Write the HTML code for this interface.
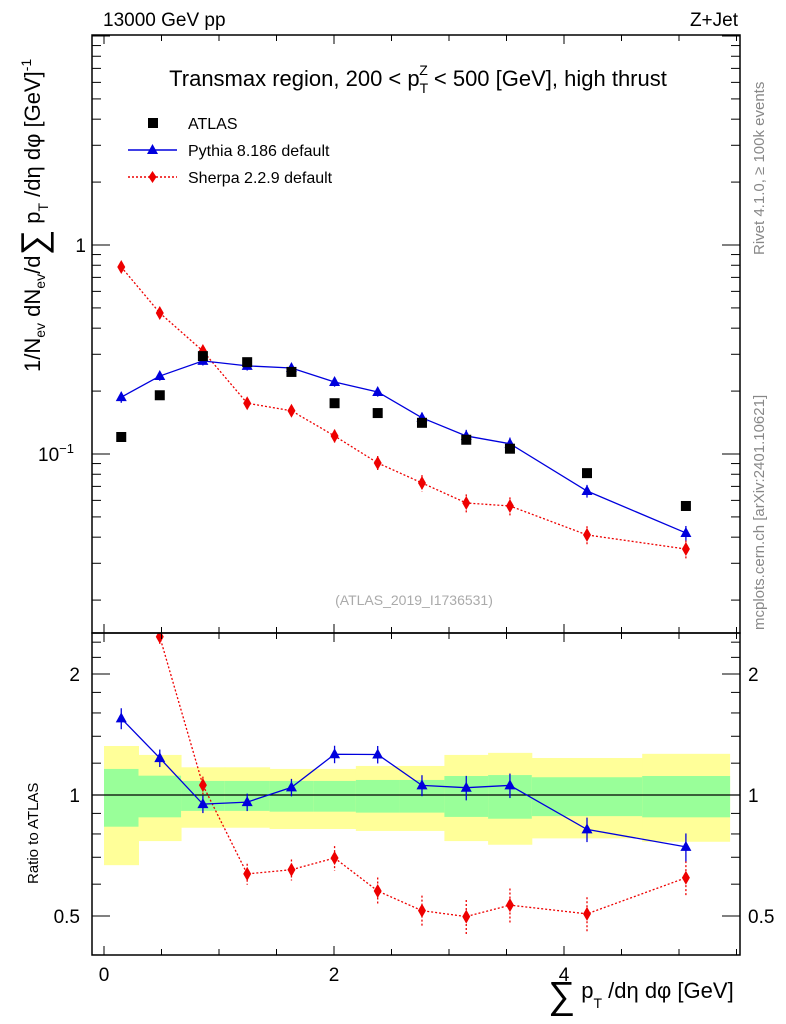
<!DOCTYPE html>
<html><head><meta charset="utf-8"><style>
body{margin:0;background:#fff;}
svg{display:block;font-family:"Liberation Sans",sans-serif;}
</style></head><body>
<svg id="c" width="786" height="1024" viewBox="0 0 786 1024">
<g id="bands"></g>
<g id="marks"></g>
<g id="axes"></g>
<text x="103" y="26" font-size="19">13000 GeV pp</text>
<text x="738" y="26" font-size="19" text-anchor="end">Z+Jet</text>
<text x="418" y="86" font-size="22" text-anchor="middle">Transmax region, 200 &lt; p<tspan font-size="14" dy="7">T</tspan><tspan font-size="14" dx="-9" dy="-18">Z</tspan><tspan dy="11"> &lt; 500 [GeV], high thrust</tspan></text>
<g>
<rect x="148" y="118" width="10" height="10" fill="#000"/>
<text x="188" y="129" font-size="16">ATLAS</text>
<line x1="128" y1="150" x2="177" y2="150" stroke="#0000dd" stroke-width="1.5"/>
<polygon points="152.5,144 158,154 147,154" fill="#0000dd"/>
<text x="188" y="156" font-size="16">Pythia 8.186 default</text>
<line x1="128" y1="177" x2="177" y2="177" stroke="#ee0000" stroke-width="1.5" stroke-dasharray="2,2"/>
<polygon points="152.5,171 156.5,177 152.5,183 148.5,177" fill="#ee0000"/>
<text x="188" y="183" font-size="16">Sherpa 2.2.9 default</text>
</g>
<text x="414" y="605" font-size="14" fill="#aaa" text-anchor="middle">(ATLAS_2019_I1736531)</text>
<text transform="translate(764,255) rotate(-90)" font-size="15" fill="#888">Rivet 4.1.0, ≥ 100k events</text>
<text transform="translate(764,630) rotate(-90)" font-size="15" fill="#888">mcplots.cern.ch [arXiv:2401.10621]</text>
<text transform="translate(40,372) rotate(-90)" font-size="22">1/N<tspan font-size="14" dy="5">ev</tspan><tspan dy="-5"> dN</tspan><tspan font-size="14" dy="5">ev</tspan><tspan dy="-5">/d</tspan><tspan font-size="36" dy="6">∑</tspan><tspan dy="-6"> p</tspan><tspan font-size="14" dy="8">T</tspan><tspan dy="-8"> /dη dφ  [GeV]</tspan><tspan font-size="14" dy="-9">-1</tspan></text>
<text transform="translate(38,884) rotate(-90)" font-size="15">Ratio to ATLAS</text>
<text x="548" y="1008" font-size="22"><tspan font-size="38" dy="0">∑</tspan><tspan dy="-10"> p</tspan><tspan font-size="14" dy="10">T</tspan><tspan dy="-10"> /dη dφ [GeV]</tspan></text>
</svg>
<script>
const edges=[0,0.3,0.67,1.05,1.44,1.82,2.19,2.57,2.96,3.34,3.72,4.68,5.44];
const atlas=[0.1206,0.191,0.294,0.275,0.247,0.175,0.157,0.141,0.117,0.106,0.081,0.0564];
const pythia=[0.187,0.236,0.279,0.264,0.258,0.221,0.198,0.149,0.122,0.112,0.0665,0.0419];
const sherpa=[0.785,0.473,0.311,0.175,0.161,0.122,0.0906,0.0727,0.0583,0.0564,0.041,0.0351];
const pythiaErr=[0.06,0.05,0.05,0.05,0.05,0.05,0.05,0.06,0.07,0.07,0.07,0.08];
const sherpaErr=[0.04,0.04,0.05,0.06,0.06,0.07,0.08,0.09,0.1,0.1,0.1,0.1];
const totUp=[1.324,1.258,1.172,1.172,1.161,1.161,1.181,1.181,1.258,1.273,1.236,1.266];
const totDn=[0.669,0.768,0.829,0.829,0.823,0.823,0.814,0.814,0.768,0.752,0.780,0.765];
const statUp=[1.161,1.117,1.084,1.084,1.084,1.084,1.090,1.090,1.115,1.121,1.107,1.115];
const statDn=[0.834,0.880,0.913,0.913,0.909,0.909,0.904,0.904,0.882,0.873,0.886,0.880];
const yTicksMain=[{v:1,t:"1"},{v:0.1,t:"10"}];
const yTicksRatio=[0.5,1,2];
const xTicks=[0,2,4];

const NS="http://www.w3.org/2000/svg";
const L=92,R=740,T=35,MB=633,RB=955;
const X=v=>104+v*115;
const Y=v=>245-Math.log10(v)*209;
const YR=v=>795-Math.log2(v)*121;
function el(tag,attrs,parent){const e=document.createElementNS(NS,tag);for(const k in attrs)e.setAttribute(k,attrs[k]);parent.appendChild(e);return e;}
const bands=document.getElementById('bands'),marks=document.getElementById('marks'),axes=document.getElementById('axes');
const mids=edges.slice(0,-1).map((e,i)=>(e+edges[i+1])/2);

for(let i=0;i<mids.length;i++){
 const y1=el('rect',{x:X(edges[i]),y:YR(totUp[i]),width:X(edges[i+1])-X(edges[i])+0.5,height:YR(totDn[i])-YR(totUp[i]),fill:'#ffff99'},bands);
 
 
 const g=el('rect',{x:X(edges[i]),y:YR(statUp[i]),width:X(edges[i+1])-X(edges[i])+0.5,height:YR(statDn[i])-YR(statUp[i]),fill:'#99ff99'},bands);
 
 
}
const one=el('line',{x1:L,x2:R,y1:YR(1),y2:YR(1),stroke:'#000','stroke-width':1.3},bands);



const defs=el('defs',{},marks);
const c1=el('clipPath',{id:'cm'},defs);el('rect',{x:L,y:T,width:R-L,height:MB-T},c1);
const c2=el('clipPath',{id:'cr'},defs);el('rect',{x:L,y:MB,width:R-L,height:RB-MB},c2);
const gm=el('g',{'clip-path':'url(#cm)'},marks);
const gr=el('g',{'clip-path':'url(#cr)'},marks);

function series(g,vals,errs,yf,color,dash,shape,name){
 const pl=el('polyline',{points:vals.map((v,i)=>X(mids[i])+','+yf(v)).join(' '),fill:'none',stroke:color,'stroke-width':1.3,'stroke-dasharray':dash},g);
 
 
 vals.forEach((v,i)=>{
  const x=X(mids[i]),y=yf(v);
  const e=el('line',{x1:x,x2:x,y1:yf(v*(1+errs[i])),y2:yf(v*(1-errs[i])),stroke:color,'stroke-width':1.3,'stroke-dasharray':dash},g);
  
  
  let m;
  if(shape==='tri') m=el('polygon',{points:`${x},${y-6} ${x+5.5},${y+4} ${x-5.5},${y+4}`,fill:color},g);
  else m=el('polygon',{points:`${x},${y-7} ${x+4},${y} ${x},${y+7} ${x-4},${y}`,fill:color},g);
  
  
 });
}
series(gm,sherpa,sherpaErr,Y,'#ee0000','2,2','dia','sherpa');
series(gm,pythia,pythiaErr,Y,'#0000dd','none','tri','pythia');
atlas.forEach((v,i)=>{
 const r=el('rect',{x:X(mids[i])-5,y:Y(v)-5,width:10,height:10,fill:'#000'},gm);
 
 
});
series(gr,sherpa.map((v,i)=>v/atlas[i]),sherpaErr,YR,'#ee0000','2,2','dia','sherpa-ratio');
series(gr,pythia.map((v,i)=>v/atlas[i]),pythiaErr,YR,'#0000dd','none','tri','pythia-ratio');

el('rect',{x:L,y:T,width:R-L,height:MB-T,fill:'none',stroke:'#000','stroke-width':1.5},axes);
el('rect',{x:L,y:MB,width:R-L,height:RB-MB,fill:'none',stroke:'#000','stroke-width':1.5},axes);
for(let v=0;v<=5.5;v+=0.5){
 const x=X(v);const big=Number.isInteger(v/2)?9:6;
 [[T,1],[MB,-1],[MB,1],[RB,-1]].forEach(([y,d])=>el('line',{x1:x,x2:x,y1:y,y2:y+d*big,stroke:'#000','stroke-width':1},axes));
}
xTicks.forEach(v=>{const t=el('text',{x:X(v),y:981,'font-size':19,'text-anchor':'middle'},axes);t.textContent=v;
 
 });
for(let d=-2;d<=1;d++)for(let k=1;k<10;k++){
 const v=k*Math.pow(10,d);const y=Y(v);if(y<T||y>MB)continue;const len=k===1?18:9;
 el('line',{x1:L,x2:L+len,y1:y,y2:y,stroke:'#000'},axes);el('line',{x1:R,x2:R-len,y1:y,y2:y,stroke:'#000'},axes);
}
yTicksMain.forEach(o=>{const t=el('text',{x:o.v===1?86:74,y:Y(o.v)+7,'font-size':19,'text-anchor':'end'},axes);t.textContent=o.t;
 if(o.v!==1){const s=el('tspan',{'font-size':13,dy:-8},t);s.textContent='−1';}
 
 });
for(let v=0.4;v<=2.6;v+=0.1){
 const vv=Math.round(v*10)/10;
 const y=YR(vv);if(y<MB||y>RB)continue;
 const major=yTicksRatio.includes(vv);const len=major?18:9;
 if(vv>1.05&&Math.round(vv*10)%2!==0&&vv>1)continue;
 el('line',{x1:L,x2:L+len,y1:y,y2:y,stroke:'#000'},axes);el('line',{x1:R,x2:R-len,y1:y,y2:y,stroke:'#000'},axes);
}
yTicksRatio.forEach(v=>{
 const t=el('text',{x:80,y:YR(v)+7,'font-size':19,'text-anchor':'end'},axes);t.textContent=v;
 
 
 const t2=el('text',{x:748,y:YR(v)+7,'font-size':19},axes);t2.textContent=v;
 
 
});
</script>
</body></html>
